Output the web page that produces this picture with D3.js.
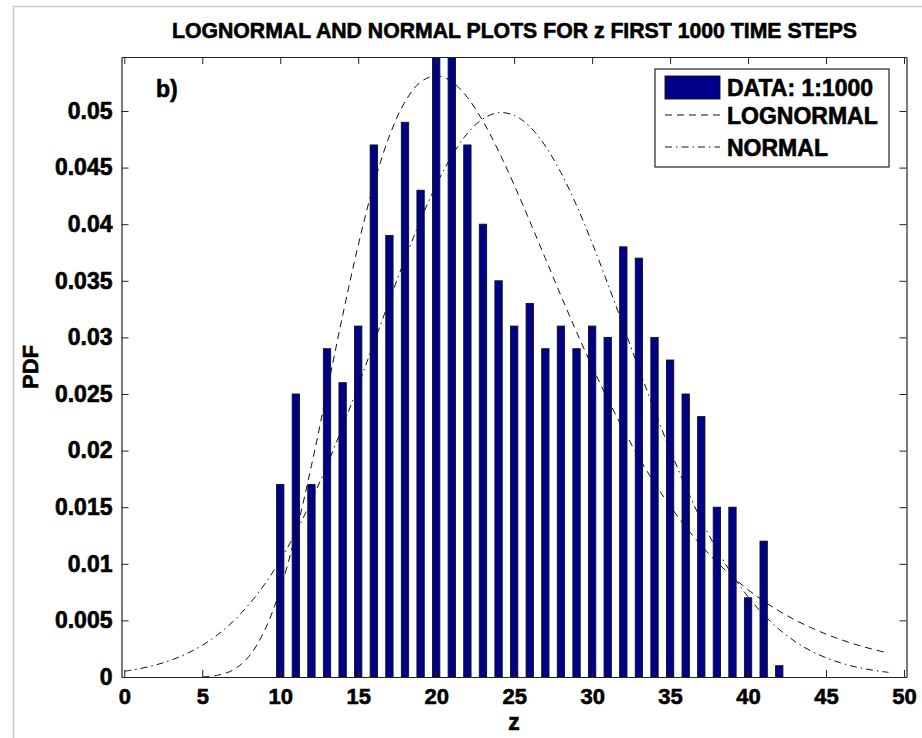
<!DOCTYPE html>
<html>
<head>
<meta charset="utf-8">
<script src="https://cdn.jsdelivr.net/npm/d3@7"></script>
<style>
  html, body { margin: 0; padding: 0; background: #fff; }
  svg { display: block; }
  text { font-family: "Liberation Sans", Arial, Helvetica, sans-serif; font-weight: bold; fill: #000; stroke: #000; stroke-width: 0.6px; }
</style>
</head>
<body>
<svg id="chart" width="922" height="738"></svg>
<script>
// ---- data ----
const binCenters = [10,11,12,13,14,15,16,17,18,19,20,21,22,23,24,25,26,27,28,29,30,31,32,33,34,35,36,37,38,39,40,41,42];
const pdfValues  = [0.017,0.025,0.017,0.029,0.026,0.031,0.047,0.039,0.049,0.043,0.055,0.055,0.047,0.040,0.035,0.031,0.033,0.029,0.031,0.029,0.031,0.030,0.038,0.037,0.030,0.028,0.025,0.023,0.015,0.015,0.007,0.012,0.001];

const logX = [5,6,7,8,9,10,11,12,13,14,15,16,17,18,19,20,21,22,23,24,25,26,27,28,29,30,31,32,33,34,35,36,37,38,39,40,41,42,43,44,45,46,47,48,49];
const logY = [0.00002,0.00016,0.00064,0.00183,0.00412,0.00774,0.01268,0.01867,0.02525,0.03192,0.03814,0.04352,0.04779,0.05082,0.05256,0.05311,0.05260,0.05120,0.04909,0.04646,0.04347,0.04027,0.03698,0.03369,0.03049,0.02743,0.02455,0.02187,0.01939,0.01713,0.01510,0.01326,0.01161,0.01015,0.00885,0.00771,0.00670,0.00582,0.00505,0.00438,0.00379,0.00328,0.00283,0.00245,0.00211];

const normX = [0,1,2,3,4,5,6,7,8,9,10,11,12,13,14,15,16,17,18,19,20,21,22,23,24,25,26,27,28,29,30,31,32,33,34,35,36,37,38,39,40,41,42,43,44,45,46,47,48,49];
const normY = [0.00051,0.00074,0.00106,0.00149,0.00206,0.00280,0.00375,0.00494,0.00642,0.00820,0.01032,0.01278,0.01559,0.01872,0.02212,0.02574,0.02949,0.03326,0.03693,0.04037,0.04345,0.04603,0.04802,0.04931,0.04985,0.04962,0.04862,0.04691,0.04455,0.04166,0.03834,0.03475,0.03100,0.02723,0.02355,0.02005,0.01681,0.01386,0.01127,0.00901,0.00709,0.00550,0.00420,0.00315,0.00233,0.00170,0.00122,0.00086,0.00060,0.00041];

const xTicks = [0,5,10,15,20,25,30,35,40,45,50];
const yTicks = [0,0.005,0.01,0.015,0.02,0.025,0.03,0.035,0.04,0.045,0.05];
const yTickLabels = ["0","0.005","0.01","0.015","0.02","0.025","0.03","0.035","0.04","0.045","0.05"];

const titleText = "LOGNORMAL AND NORMAL PLOTS FOR z FIRST 1000 TIME STEPS";
const legendLabels = ["DATA: 1:1000","LOGNORMAL","NORMAL"];

// ---- layout ----
const L = 121.5, R = 906.5, T = 57, B = 677;
const svg = d3.select("#chart");

// figure frame (light gray)
svg.append("path").attr("d", "M13.5,738 V6.5 H922").attr("fill","none").attr("stroke","#c8c8c8").attr("stroke-width",1.5);

const x = d3.scaleLinear().domain([-0.18, 50.16]).range([L, R]);
const y = d3.scaleLinear().domain([0, 0.05477]).range([B, T]);

svg.append("defs").append("clipPath").attr("id","plotclip")
  .append("rect").attr("x",L).attr("y",T).attr("width",R-L).attr("height",B-T);

const plot = svg.append("g").attr("clip-path","url(#plotclip)");

// bars
const halfW = 0.235;
plot.selectAll("rect.bar").data(binCenters.map((c,i)=>({c, v: pdfValues[i]})))
  .enter().append("rect").attr("class","bar")
  .attr("x", d => x(d.c - halfW))
  .attr("width", d => x(d.c + halfW) - x(d.c - halfW))
  .attr("y", d => y(d.v))
  .attr("height", d => y(0) - y(d.v))
  .attr("fill","#000088").attr("stroke","#111").attr("stroke-width",0.9);

// curves
const line = d3.line().x(d => x(d[0])).y(d => y(d[1])).curve(d3.curveCatmullRom);
plot.append("path").datum(logX.map((v,i)=>[v, logY[i]]))
  .attr("d", line).attr("fill","none").attr("stroke","#111").attr("stroke-width",1)
  .attr("stroke-dasharray","7,5");
plot.append("path").datum(normX.map((v,i)=>[v, normY[i]]))
  .attr("d", line).attr("fill","none").attr("stroke","#111").attr("stroke-width",1)
  .attr("stroke-dasharray","7,4,1.5,4");

// axes
const fs = "22px";
const gB = svg.append("g").attr("transform",`translate(0,${B})`)
  .call(d3.axisBottom(x).tickValues(xTicks).tickSize(-7).tickSizeOuter(0).tickPadding(11).tickFormat(d3.format("d")));
const gT = svg.append("g").attr("transform",`translate(0,${T})`)
  .call(d3.axisTop(x).tickValues(xTicks).tickSize(-7).tickSizeOuter(0).tickFormat(""));
const gL = svg.append("g").attr("transform",`translate(${L},0)`)
  .call(d3.axisLeft(y).tickValues(yTicks).tickSize(-7).tickSizeOuter(0).tickPadding(9).tickFormat((d,i)=>yTickLabels[i]));
const gR = svg.append("g").attr("transform",`translate(${R},0)`)
  .call(d3.axisRight(y).tickValues(yTicks).tickSize(-7).tickSizeOuter(0).tickFormat(""));
[gB,gT,gL,gR].forEach(g => {
  g.selectAll("path.domain").attr("stroke","#222").attr("stroke-width",1.2);
  g.selectAll("line").attr("stroke","#222").attr("stroke-width",1);
  g.selectAll("text").style("font-size",fs).style("font-weight","bold")
    .style("font-family",'"Liberation Sans", Arial, sans-serif').attr("fill","#000")
    .style("stroke","#000").style("stroke-width","0.6px");
});
gL.selectAll("text").style("font-size","23px");

// title
svg.append("text").attr("x",172).attr("y",38).attr("textLength",685).attr("lengthAdjust","spacingAndGlyphs")
  .style("font-size","22px").text(titleText);

// panel label
svg.append("text").attr("x",156).attr("y",97).style("font-size","23px").text("b)");

// axis labels
svg.append("text").attr("x",(L+R)/2).attr("y",730).attr("text-anchor","middle").style("font-size","23px").text("z");
svg.append("text").attr("transform",`translate(38,${(T+B)/2}) rotate(-90)`).attr("text-anchor","middle")
  .style("font-size","22px").text("PDF");

// legend
const lg = svg.append("g");
lg.append("rect").attr("x",655).attr("y",69).attr("width",234).attr("height",98)
  .attr("fill","#fff").attr("stroke","#222").attr("stroke-width",1.2);
lg.append("rect").attr("x",665).attr("y",76).attr("width",55).attr("height",23)
  .attr("fill","#000088").attr("stroke","#111").attr("stroke-width",0.9);
lg.append("line").attr("x1",665).attr("x2",720).attr("y1",115).attr("y2",115)
  .attr("stroke","#111").attr("stroke-width",1).attr("stroke-dasharray","7,5");
lg.append("line").attr("x1",665).attr("x2",720).attr("y1",147).attr("y2",147)
  .attr("stroke","#111").attr("stroke-width",1).attr("stroke-dasharray","7,4,1.5,4");
const lgY = [96, 124, 156];
legendLabels.forEach((t,i) => {
  lg.append("text").attr("x",727).attr("y",lgY[i]).style("font-size","23px").text(t);
});
</script>
</body>
</html>
